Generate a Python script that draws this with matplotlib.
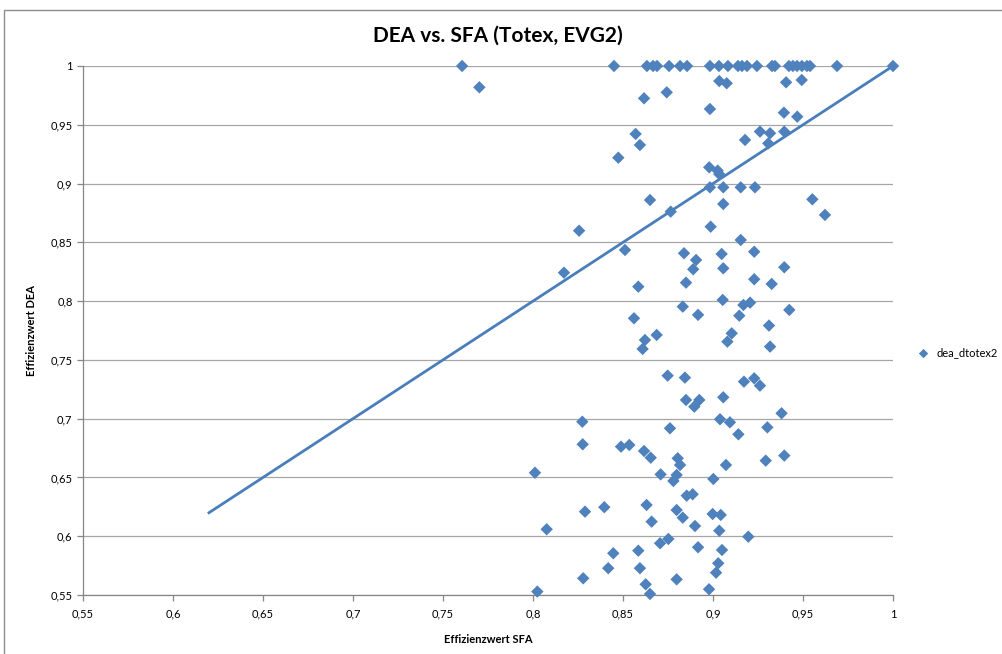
import matplotlib
matplotlib.use("Agg")
import matplotlib.pyplot as plt
from matplotlib.patches import Rectangle
from matplotlib.ticker import FuncFormatter

plt.rcParams['font.family'] = ['Lato', 'DejaVu Sans']

title = "DEA vs. SFA (Totex, EVG2)"
x_label = "Effizienzwert SFA"
y_label = "Effizienzwert DEA"
series_name = "dea_dtotex2"

# efficiency scores
sfa = [
    # top row (DEA = 1)
    0.7606, 0.845, 0.8633, 0.8667, 0.8689, 0.8756, 0.8817, 0.8856, 0.8983, 0.9033,
    0.9083, 0.9139, 0.9161, 0.9189, 0.9244, 0.9328, 0.9344, 0.9422, 0.9444, 0.9467,
    0.9494, 0.9522, 0.9539, 0.9689, 1.0,
    # upper band
    0.7702, 0.8617, 0.8743, 0.857, 0.8594, 0.8474, 0.9035, 0.9076, 0.9406, 0.9493,
    0.8983, 0.9394, 0.9468, 0.9261, 0.9317, 0.9396, 0.9178, 0.9307, 0.8979, 0.9026,
    0.9035, 0.8983, 0.9057, 0.9154, 0.9233,
    # 0.8 - 0.9
    0.865, 0.8765, 0.8256, 0.8511, 0.8172, 0.8839, 0.8906, 0.889, 0.885, 0.8585,
    0.8832, 0.8561, 0.8917, 0.9057, 0.9552, 0.9622, 0.8987, 0.9154, 0.9229, 0.9048,
    0.9057, 0.9396, 0.9229, 0.9326, 0.9054, 0.9169, 0.9206, 0.9146, 0.9424, 0.9311,
    # 0.7 - 0.8
    0.8622, 0.8687, 0.8609, 0.8748, 0.8844, 0.885, 0.8896, 0.8924, 0.9104, 0.908,
    0.9317, 0.9172, 0.9229, 0.9261, 0.9057, 0.9381,
    # 0.65 - 0.7
    0.8274, 0.8761, 0.8276, 0.8489, 0.8535, 0.8617, 0.8654, 0.8804, 0.9039, 0.9094,
    0.9141, 0.9302, 0.9396, 0.9293, 0.9072, 0.8011, 0.8817,
    # 0.55 - 0.65
    0.8709, 0.8798, 0.878, 0.8854, 0.8887, 0.9002, 0.8289, 0.8396, 0.8631, 0.8798,
    0.8832, 0.8659, 0.8076, 0.89, 0.8752, 0.8706, 0.8917, 0.8446, 0.8585, 0.8418,
    0.8594, 0.8279, 0.8798, 0.8626, 0.8024, 0.865, 0.8998, 0.9043, 0.9035, 0.9196,
    0.905, 0.9029, 0.9017, 0.8978,
]
dea = [
    1, 1, 1, 1, 1, 1, 1, 1, 1, 1,
    1, 1, 1, 1, 1, 1, 1, 1, 1, 1,
    1, 1, 1, 1, 1,
    0.9819, 0.9725, 0.9776, 0.9422, 0.9328, 0.922, 0.9872, 0.9853, 0.9861, 0.9881,
    0.9634, 0.9603, 0.9569, 0.9442, 0.9428, 0.9442, 0.9371, 0.9342, 0.9138, 0.911,
    0.908, 0.8968, 0.8968, 0.8968, 0.8968,
    0.886, 0.8761, 0.8599, 0.8435, 0.8242, 0.8407, 0.835, 0.8271, 0.8157, 0.8123,
    0.7953, 0.7854, 0.7883, 0.8826, 0.8866, 0.8733, 0.8633, 0.852, 0.842, 0.8401,
    0.8279, 0.8288, 0.8186, 0.8146, 0.801, 0.7967, 0.7987, 0.7876, 0.7925, 0.7792,
    0.7669, 0.7712, 0.7593, 0.7366, 0.7349, 0.7159, 0.7102, 0.7159, 0.7726, 0.7655,
    0.7613, 0.7315, 0.7343, 0.7281, 0.7182, 0.7046,
    0.6974, 0.6918, 0.6782, 0.6762, 0.6776, 0.6725, 0.6668, 0.6663, 0.6995, 0.6969,
    0.6867, 0.6926, 0.6686, 0.6643, 0.6606, 0.654, 0.6606,
    0.6526, 0.6521, 0.647, 0.6345, 0.6357, 0.6487, 0.6209, 0.6247, 0.6266, 0.6223,
    0.6158, 0.6124, 0.6059, 0.6087, 0.5977, 0.594, 0.5906, 0.5855, 0.5877, 0.5728,
    0.5728, 0.5642, 0.5633, 0.5591, 0.5529, 0.5509, 0.6189, 0.6181, 0.6047, 0.5996,
    0.5883, 0.577, 0.569, 0.5549,
]

# diagonal reference line
diag_x = [0.62, 1.0]
diag_y = [0.62, 1.0]

x_ticks = [0.55, 0.6, 0.65, 0.7, 0.75, 0.8, 0.85, 0.9, 0.95, 1.0]
y_ticks = [0.55, 0.6, 0.65, 0.7, 0.75, 0.8, 0.85, 0.9, 0.95, 1.0]

W, H = 1002, 654
fig = plt.figure(figsize=(W / 100, H / 100), dpi=100)
fig.patch.set_facecolor('white')

# outer chart border
fig.patches.append(Rectangle((4 / W, -0.1), 1.1, 1 - 10 / H + 0.1,
                             transform=fig.transFigure, fill=False,
                             edgecolor='#8c8c8c', linewidth=1.0))

ax = fig.add_axes([83 / W, 1 - 595 / H, (893 - 83) / W, (595 - 66) / H])
ax.set_xlim(0.55, 1.0)
ax.set_ylim(0.55, 1.0)

ax.set_xticks(x_ticks)
ax.set_yticks(y_ticks)
fmt = FuncFormatter(lambda v, p: ('%g' % round(v, 2)).replace('.', ','))
ax.xaxis.set_major_formatter(fmt)
ax.yaxis.set_major_formatter(fmt)

ax.grid(axis='y', color='#a6a6a6', linewidth=0.9)
ax.set_axisbelow(True)
for s in ['top', 'right']:
    ax.spines[s].set_visible(False)
for s in ['left', 'bottom']:
    ax.spines[s].set_color('#868686')
    ax.spines[s].set_linewidth(0.9)
ax.tick_params(axis='both', colors='#868686', labelcolor='black', labelsize=8,
               length=4, width=0.9, direction='out')
ax.tick_params(axis='x', pad=6)

ax.plot(diag_x, diag_y, color='#4A7EBB', linewidth=2.0, zorder=2)
ax.scatter(sfa, dea, marker='D', s=40, color='#4F81BD', edgecolors='none',
           zorder=3, label=series_name, clip_on=False)

ax.set_xlabel(x_label, fontsize=8, fontweight='bold', labelpad=10)
ax.set_ylabel(y_label, fontsize=8, fontweight='bold', labelpad=10)
fig.text(0.5 * (83 + 893) / W + 0.01, 1 - 36 / H, title, ha='center', va='center',
         fontsize=15, fontweight='bold')

fig.legend(loc='center left', bbox_to_anchor=(908 / W, 1 - 353 / H),
           frameon=False, fontsize=8, handletextpad=0.2, markerscale=0.75,
           borderaxespad=0)

fig.savefig('out.png', dpi=100)
